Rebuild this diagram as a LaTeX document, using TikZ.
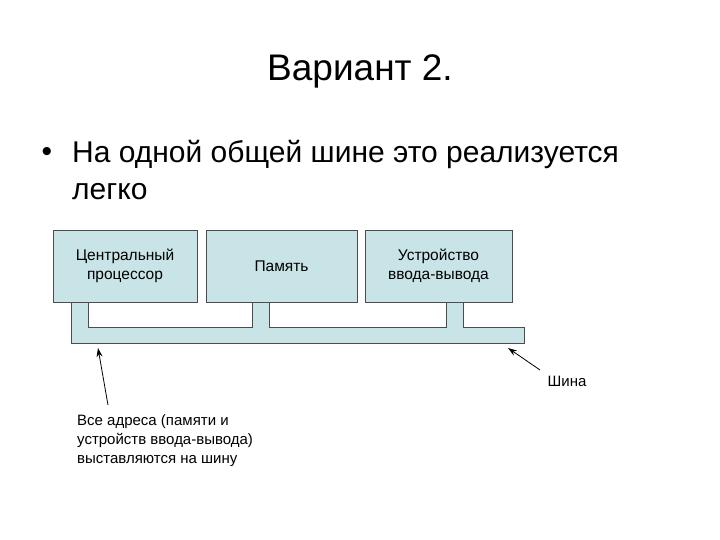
\documentclass[tikz,border=0pt]{standalone}
\usepackage{fontspec}
\usetikzlibrary{arrows.meta}
\setmainfont{Liberation Sans}
\definecolor{boxfill}{RGB}{200,228,230}
\begin{document}
\begin{tikzpicture}[x=1pt,y=-1pt,
  unit/.style={draw=black!70,fill=boxfill,line width=0.8pt,minimum width=#1,minimum height=72pt,align=center,inner sep=0pt,font=\fontsize{15.5}{19}\selectfont},
  lbl/.style={font=\fontsize{15}{19}\selectfont},
  ptr/.style={-{Stealth[length=9pt,width=6pt]},line width=0.8pt}]
\useasboundingbox (0,0) rectangle (720,540);
\node[font=\fontsize{37}{40}\selectfont] (title) at (360,71) {Вариант 2.};
\node[anchor=west,font=\fontsize{30}{36}\selectfont] (bullet) at (38,154) {•};
\node[anchor=north west,align=left,inner sep=0pt,font=\fontsize{30}{37}\selectfont] (txt) at (72,140) {На одной общей шине это реализуется\\легко};
\node[unit=144pt] (cpu) at (125,266) {Центральный\\процессор};
\node[unit=151pt] (mem) at (281.5,266) {Память};
\node[unit=147pt] (io) at (438.5,266) {Устройство\\ввода-вывода};
\draw[draw=black!70,fill=boxfill,line width=0.8pt] (71,302) -- (88,302) -- (88,327) -- (252,327) -- (252,302) -- (269,302) -- (269,327) -- (446,327) -- (446,302) -- (463,302) -- (463,327) -- (524,327) -- (524,343) -- (71,343) -- cycle;
\coordinate (busL) at (98,348);
\coordinate (busR) at (508,348);
\node[lbl] (shina) at (567,381) {Шина};
\node[lbl,anchor=north west,align=left,inner sep=0pt] (note) at (77,414) {Все адреса (памяти и\\устройств ввода-вывода)\\выставляются на шину};
\draw[ptr] (108,405) -- (busL);
\draw[ptr] (540,370) -- (busR);
\end{tikzpicture}
\end{document}
